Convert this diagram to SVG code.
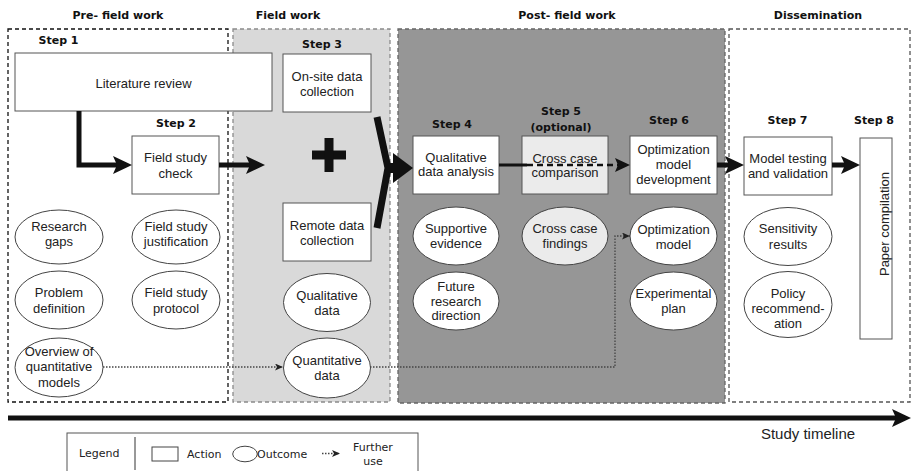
<svg xmlns="http://www.w3.org/2000/svg" width="912" height="471" viewBox="0 0 912 471">
<defs>
<style>
.hdr{font-family:"DejaVu Sans",Verdana,sans-serif;font-weight:bold;font-size:11px;fill:#111;text-anchor:middle}
.txt{font-family:"Liberation Sans",Arial,sans-serif;font-size:13px;fill:#222;text-anchor:middle}
.leg{font-family:"DejaVu Sans",Tahoma,sans-serif;font-size:11px;fill:#222}
.box{fill:#fff;stroke:#555;stroke-width:1}
.ell{fill:#fff;stroke:#444;stroke-width:1}
.thick{fill:none;stroke:#111;stroke-width:5}
.dot{fill:none;stroke:#444;stroke-width:1.3;stroke-dasharray:1.5 1.5}
</style>
<marker id="ab" markerUnits="userSpaceOnUse" markerWidth="19" markerHeight="18" refX="13" refY="9" orient="auto"><path d="M0,0 L19,9 L0,18 L4,9 z" fill="#111"/></marker>
<marker id="am" markerUnits="userSpaceOnUse" markerWidth="15" markerHeight="14" refX="10" refY="7" orient="auto"><path d="M0,0 L15,7 L0,14 L3,7 z" fill="#111"/></marker>
<marker id="as" markerUnits="userSpaceOnUse" markerWidth="8" markerHeight="7" refX="8" refY="3.5" orient="auto"><path d="M0,0 L8,3.5 L0,7 L2,3.5 z" fill="#222"/></marker>
</defs>
<rect width="912" height="471" fill="#fff"/>

<g id="panels">
<rect x="8" y="29" width="220" height="373" fill="#fff" stroke="#111" stroke-width="1.3" stroke-dasharray="4 3"/>
<rect x="233" y="29" width="157" height="373" fill="#d9d9d9" stroke="#8a8a8a" stroke-width="1.3" stroke-dasharray="4 3"/>
<rect x="398" y="29" width="327" height="374" fill="#969696" stroke="#666" stroke-width="1.3" stroke-dasharray="4 3"/>
<rect x="729" y="29" width="181" height="373" fill="#fff" stroke="#555" stroke-width="1.3" stroke-dasharray="4 3"/>
<text class="hdr" x="118" y="19">Pre- field work</text>
<text class="hdr" x="288" y="19">Field work</text>
<text class="hdr" x="567" y="19">Post- field work</text>
<text class="hdr" x="818" y="19">Dissemination</text>
<text class="hdr" x="58.5" y="44">Step 1</text>
<text class="hdr" x="176" y="127">Step 2</text>
<text class="hdr" x="322" y="47.5">Step 3</text>
<text class="hdr" x="452" y="128">Step 4</text>
<text class="hdr" x="561" y="115">Step 5</text>
<text class="hdr" x="561" y="131">(optional)</text>
<text class="hdr" x="669" y="123.5">Step 6</text>
<text class="hdr" x="787.5" y="123.5">Step 7</text>
<text class="hdr" x="874" y="123.5">Step 8</text>
</g>

<g id="literature-review"><rect class="box" x="15" y="53" width="257" height="58"/><text class="txt" x="143.5" y="88">Literature review</text></g>
<g id="field-study-check"><rect class="box" x="132" y="136" width="87" height="58"/><text class="txt" x="175.5" y="162">Field study</text><text class="txt" x="175.5" y="178">check</text></g>
<g id="onsite"><rect class="box" x="283" y="54" width="88" height="58"/><text class="txt" x="327" y="81">On-site data</text><text class="txt" x="327" y="96">collection</text></g>
<g id="remote"><rect class="box" x="283" y="203" width="88" height="58"/><text class="txt" x="327" y="230">Remote data</text><text class="txt" x="327" y="245">collection</text></g>
<g id="plus"><rect x="312" y="150.5" width="34" height="9" fill="#111"/><rect x="324.5" y="138" width="9" height="34" fill="#111"/></g>

<g id="research-gaps"><ellipse class="ell" cx="59" cy="237" rx="44" ry="27"/><text class="txt" x="59" y="231">Research</text><text class="txt" x="59" y="246">gaps</text></g>
<g id="fs-justification"><ellipse class="ell" cx="176" cy="237" rx="44" ry="27"/><text class="txt" x="176" y="231">Field study</text><text class="txt" x="176" y="246">justification</text></g>
<g id="problem-definition"><ellipse class="ell" cx="59" cy="300" rx="44" ry="29"/><text class="txt" x="59" y="297">Problem</text><text class="txt" x="59" y="313">definition</text></g>
<g id="fs-protocol"><ellipse class="ell" cx="176" cy="300" rx="44" ry="29"/><text class="txt" x="176" y="297">Field study</text><text class="txt" x="176" y="313">protocol</text></g>
<g id="overview"><ellipse class="ell" cx="59" cy="367.5" rx="44" ry="29.5"/><text class="txt" x="59" y="356">Overview of</text><text class="txt" x="59" y="371">quantitative</text><text class="txt" x="59" y="386.5">models</text></g>
<g id="qualitative-data"><ellipse class="ell" cx="327" cy="302.5" rx="43.5" ry="29"/><text class="txt" x="327" y="299.5">Qualitative</text><text class="txt" x="327" y="314.5">data</text></g>
<g id="quantitative-data"><ellipse class="ell" cx="327" cy="368" rx="43.5" ry="30"/><text class="txt" x="327" y="364.5">Quantitative</text><text class="txt" x="327" y="379.5">data</text></g>

<g id="qual-analysis"><rect class="box" x="413" y="136" width="86" height="58"/><text class="txt" x="456" y="162">Qualitative</text><text class="txt" x="456" y="176">data analysis</text></g>
<g id="cross-case"><rect class="box" x="522" y="136" width="86" height="58" fill="#ebebeb" style="fill:#ebebeb"/><text class="txt" x="565" y="163">Cross case</text><text class="txt" x="565" y="177">comparison</text></g>
<g id="opt-dev"><rect class="box" x="630" y="136" width="87" height="58"/><text class="txt" x="673.5" y="154">Optimization</text><text class="txt" x="673.5" y="169">model</text><text class="txt" x="673.5" y="184">development</text></g>
<g id="model-testing"><rect class="box" x="744" y="137" width="88" height="58"/><text class="txt" x="788" y="163">Model testing</text><text class="txt" x="788" y="178">and validation</text></g>
<g id="paper"><rect class="box" x="860" y="138" width="32" height="201"/><text class="txt" transform="translate(889,224) rotate(-90)">Paper compilation</text></g>

<g id="supportive"><ellipse class="ell" cx="456" cy="236" rx="43" ry="29"/><text class="txt" x="456" y="232.5">Supportive</text><text class="txt" x="456" y="247.5">evidence</text></g>
<g id="cross-findings"><ellipse class="ell" cx="565" cy="236" rx="43" ry="29" style="fill:#ebebeb"/><text class="txt" x="565" y="232.5">Cross case</text><text class="txt" x="565" y="247.5">findings</text></g>
<g id="opt-model"><ellipse class="ell" cx="673.5" cy="236" rx="43.5" ry="29"/><text class="txt" x="673.5" y="234">Optimization</text><text class="txt" x="673.5" y="249">model</text></g>
<g id="future"><ellipse class="ell" cx="456" cy="301" rx="43" ry="29"/><text class="txt" x="456" y="291">Future</text><text class="txt" x="456" y="305.5">research</text><text class="txt" x="456" y="320">direction</text></g>
<g id="experimental"><ellipse class="ell" cx="673.5" cy="301" rx="43.5" ry="29"/><text class="txt" x="673.5" y="298">Experimental</text><text class="txt" x="673.5" y="313">plan</text></g>
<g id="sensitivity"><ellipse class="ell" cx="788" cy="236.5" rx="44" ry="29"/><text class="txt" x="788" y="232.7">Sensitivity</text><text class="txt" x="788" y="248.7">results</text></g>
<g id="policy"><ellipse class="ell" cx="788" cy="304.5" rx="44" ry="33"/><text class="txt" x="788" y="297.7">Policy</text><text class="txt" x="788" y="312.7">recommend-</text><text class="txt" x="788" y="327.7">ation</text></g>

<g id="connectors">
<path class="thick" d="M79,111 V165 H126" stroke-linejoin="miter" marker-end="url(#ab)"/>
<path class="thick" d="M219,165 H259" marker-end="url(#ab)"/>
<path d="M377,117 L388,168 L377,228" fill="none" stroke="#111" stroke-width="7" stroke-linejoin="miter"/>
<path d="M385,168 H397" stroke="#111" stroke-width="10"/>
<polygon points="393,153 413,168 393,183" fill="#111"/>
<path d="M499,165 H527" stroke="#111" stroke-width="3"/>
<path d="M527,165 H625" stroke="#111" stroke-width="2.5" stroke-dasharray="6 4" marker-end="url(#am)"/>
<path class="thick" d="M717,165 H738" marker-end="url(#ab)"/>
<path class="thick" d="M832,165 H854" marker-end="url(#ab)"/>
<path class="dot" d="M103,367 H283" marker-end="url(#as)"/>
<path class="dot" d="M370,367 H615 V236 H630" marker-end="url(#as)"/>
<path class="thick" d="M8,418 H905" marker-end="url(#ab)"/>
</g>
<text class="txt" x="808" y="439" style="font-size:15px">Study timeline</text>

<g id="legend">
<rect x="67" y="433" width="351" height="45" fill="#fff" stroke="#555" stroke-width="1"/>
<line x1="135" y1="437" x2="135" y2="470" stroke="#333" stroke-width="1"/>
<text class="leg" x="79" y="457">Legend</text>
<rect x="152" y="447" width="26" height="14" fill="#fff" stroke="#444" stroke-width="1"/>
<text class="leg" x="187" y="458">Action</text>
<ellipse cx="245" cy="454" rx="12.3" ry="7.8" fill="#fff" stroke="#444" stroke-width="1"/>
<text class="leg" x="257" y="458">Outcome</text>
<path class="dot" d="M322,453.5 H340" marker-end="url(#as)"/>
<text class="leg" x="373" y="451" text-anchor="middle">Further</text>
<text class="leg" x="373" y="465" text-anchor="middle">use</text>
</g>
</svg>
